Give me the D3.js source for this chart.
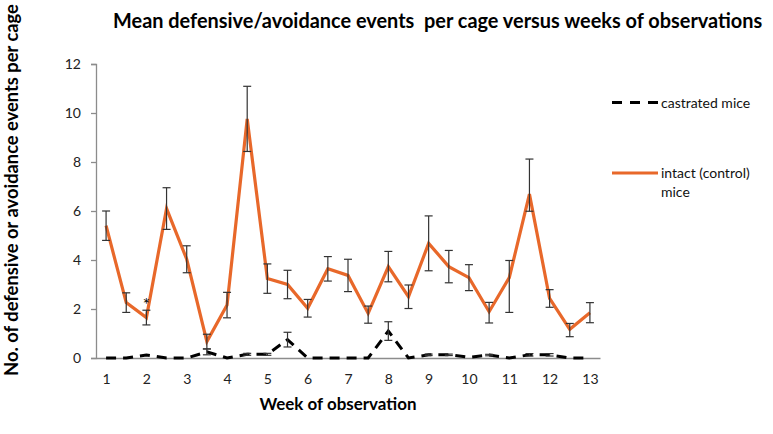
<!DOCTYPE html>
<html>
<head>
<meta charset="utf-8">
<script src="https://cdn.jsdelivr.net/npm/d3@7"></script>
<style>
  html, body { margin: 0; padding: 0; background: #fff; }
  svg { display: block; font-family: Lato, "Open Sans", sans-serif; }
</style>
</head>
<body>
<svg id="chart" width="773" height="434"></svg>
<script>
// ---- data ----
const weeks = [1,1.5,2,2.5,3,3.5,4,4.5,5,5.5,6,6.5,7,7.5,8,8.5,9,9.5,10,10.5,11,11.5,12,12.5,13];
const tickLabels = ["1","2","3","4","5","6","7","8","9","10","11","12","13"];
const intact =        [5.4, 2.26, 1.65, 6.1, 4.03, 0.67, 2.16, 9.76, 3.24, 3.0, 2.03, 3.64, 3.37, 1.82, 3.73, 2.5, 4.68, 3.73, 3.28, 1.89, 3.28, 6.69, 2.43, 1.17, 1.85];
const intactErrPlus = [0.6, 0.4, 0.3, 0.85, 0.55, 0.3, 0.52, 1.33, 0.6, 0.58, 0.36, 0.5, 0.66, 0.3, 0.62, 0.48, 1.12, 0.66, 0.53, 0.38, 0.7, 1.43, 0.36, 0.24, 0.41];
const intactErrMinus= [0.6, 0.4, 0.3, 0.85, 0.55, 0.3, 0.52, 1.33, 0.6, 0.58, 0.36, 0.5, 0.66, 0.4, 0.62, 0.48, 1.12, 0.66, 0.53, 0.46, 1.42, 0.7, 0.36, 0.3, 0.41];
const castrated =     [0, 0, 0.12, 0, 0, 0.25, 0, 0.15, 0.15, 0.75, 0, 0, 0, 0, 1.1, 0, 0.13, 0.13, 0.03, 0.12, 0, 0.13, 0.13, 0, 0];
const castratedErr =  [0, 0, 0, 0, 0, 0.12, 0, 0.04, 0.04, 0.3, 0, 0, 0, 0, 0.38, 0, 0.03, 0.03, 0, 0.03, 0, 0.05, 0.05, 0, 0];
const yTicks = [0, 2, 4, 6, 8, 10, 12];
const asteriskIndex = 2;
const seriesNames = ["castrated mice", "intact (control)", "mice"];
const titleText = "Mean defensive/avoidance events  per cage versus weeks of observations";
const xTitleText = "Week of observation";
const yTitleText = "No. of defensive or avoidance events per cage";

// ---- layout ----
const svg = d3.select("#chart");
const orange = "#E8682A";
const plotLeft = 96, plotRight = 600, plotTop = 64, plotBottom = 358;

const x = d3.scalePoint().domain(d3.range(weeks.length)).range([plotLeft, plotRight]).padding(0.5);
const y = d3.scaleLinear().domain([0, 12]).range([plotBottom, plotTop]);

function fitText(sel, target) {
  const w = sel.node().getComputedTextLength();
  const fs = parseFloat(sel.attr("font-size"));
  if (w > 0) sel.attr("font-size", fs * target / w);
}

// title
const t = svg.append("text").attr("x", 113).attr("y", 28)
  .attr("font-size", 18).attr("font-weight", "bold").attr("fill", "#000")
  .style("white-space", "pre").text(titleText);
fitText(t, 650);

// y axis
const yAxis = d3.axisLeft(y).tickValues(yTicks).tickSize(5).tickPadding(10).tickFormat(d3.format("d"));
const gy = svg.append("g").attr("transform", `translate(${plotLeft},0)`).call(yAxis);
gy.select(".domain").attr("stroke", "#8c8c8c").attr("stroke-width", 1.3);
gy.selectAll(".tick line").attr("stroke", "#8c8c8c").attr("stroke-width", 1.3);
gy.selectAll(".tick text").attr("font-size", 14).attr("fill", "#222").attr("font-family", "Lato, sans-serif");

// x axis
const xAxis = d3.axisBottom(x).tickSize(0).tickPadding(16)
  .tickValues(d3.range(0, weeks.length, 2))
  .tickFormat((d, i) => tickLabels[i]);
const gx = svg.append("g").attr("transform", `translate(0,${plotBottom})`).call(xAxis);
gx.select(".domain").attr("stroke", "#8c8c8c").attr("stroke-width", 1.3);
gx.selectAll(".tick text").attr("font-size", 14).attr("fill", "#222").attr("font-family", "Lato, sans-serif");

// axis titles
const xt = svg.append("text").attr("x", 338).attr("y", 410).attr("text-anchor", "middle")
  .attr("font-size", 16).attr("font-weight", "bold").text(xTitleText);
fitText(xt, 157);
const yt = svg.append("text").attr("transform", "translate(18,190) rotate(-90)").attr("text-anchor", "middle")
  .attr("font-size", 16).attr("font-weight", "bold").text(yTitleText);
fitText(yt, 372);

// intact line
const line = d3.line().x((d, i) => x(i)).y(d => y(d));
svg.append("path").datum(intact).attr("d", line)
  .attr("fill", "none").attr("stroke", orange).attr("stroke-width", 3.2).attr("stroke-linejoin", "miter");

// castrated line
svg.append("path").datum(castrated).attr("d", line)
  .attr("fill", "none").attr("stroke", "#000").attr("stroke-width", 3).attr("stroke-dasharray", "10,7");

// error bars
function errorBars(vals, plus, minus, color) {
  const g = svg.append("g").attr("stroke", color).attr("stroke-width", 1.2);
  vals.forEach((v, i) => {
    if (!plus[i] && !minus[i]) return;
    const cx = x(i), y1 = y(v + plus[i]), y2 = y(v - minus[i]);
    g.append("line").attr("x1", cx).attr("x2", cx).attr("y1", y1).attr("y2", y2);
    g.append("line").attr("x1", cx - 4).attr("x2", cx + 4).attr("y1", y1).attr("y2", y1);
    g.append("line").attr("x1", cx - 4).attr("x2", cx + 4).attr("y1", y2).attr("y2", y2);
  });
}
errorBars(intact, intactErrPlus, intactErrMinus, "#333");
errorBars(castrated, castratedErr, castratedErr, "#333");

// asterisk
svg.append("text").attr("x", x(asteriskIndex)).attr("y", y(intact[asteriskIndex] + intactErrPlus[asteriskIndex]) + 1)
  .attr("text-anchor", "middle").attr("font-size", 17).attr("fill", "#000").text("*");

// legend
svg.append("line").attr("x1", 612).attr("x2", 658).attr("y1", 102.5).attr("y2", 102.5)
  .attr("stroke", "#000").attr("stroke-width", 3).attr("stroke-dasharray", "10,8");
svg.append("text").attr("x", 661).attr("y", 107.5).attr("font-size", 14).attr("fill", "#111").text(seriesNames[0]);
svg.append("line").attr("x1", 612).attr("x2", 658).attr("y1", 173).attr("y2", 173)
  .attr("stroke", orange).attr("stroke-width", 3);
svg.append("text").attr("x", 661).attr("y", 178).attr("font-size", 14).attr("fill", "#111").text(seriesNames[1]);
svg.append("text").attr("x", 661).attr("y", 197).attr("font-size", 14).attr("fill", "#111").text(seriesNames[2]);
</script>
</body>
</html>
